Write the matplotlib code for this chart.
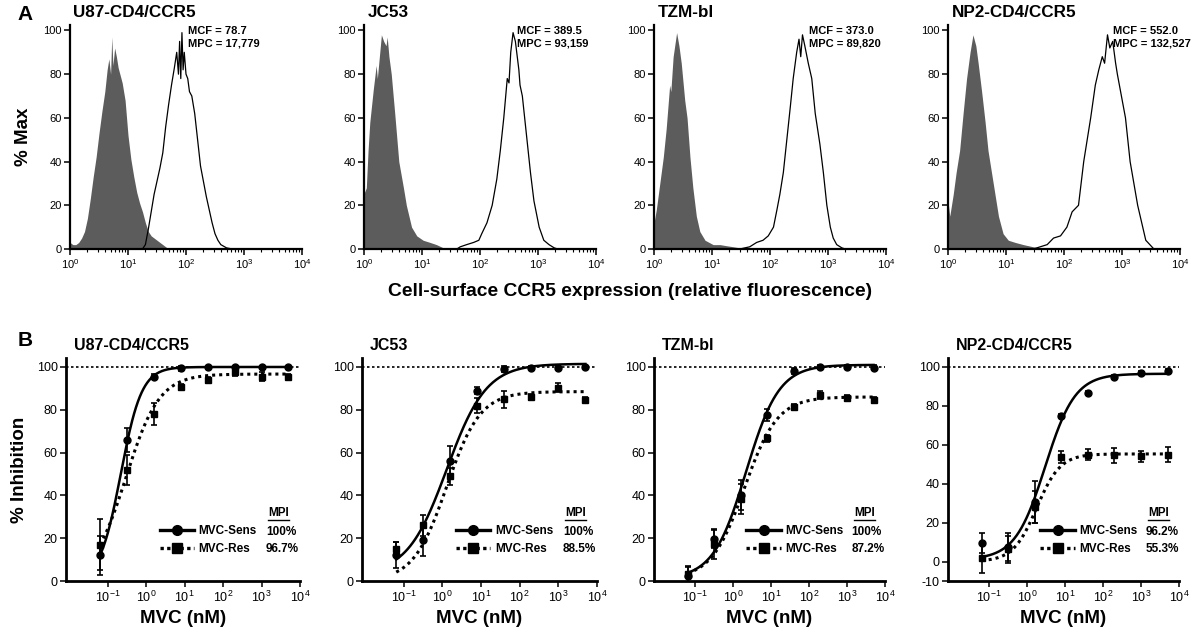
import matplotlib
matplotlib.use('Agg')
import matplotlib.pyplot as plt
import numpy as np
from matplotlib.lines import Line2D
from matplotlib.ticker import LogLocator, NullLocator, FixedLocator

plt.rcParams['font.family'] = ['Liberation Sans', 'DejaVu Sans']
plt.rcParams['mathtext.fontset'] = 'custom'
plt.rcParams['mathtext.rm'] = 'Liberation Sans'
plt.rcParams['mathtext.it'] = 'Liberation Sans:italic'
plt.rcParams['mathtext.bf'] = 'Liberation Sans:bold'
plt.rcParams['mathtext.default'] = 'regular'
plt.rcParams['axes.unicode_minus'] = False

# ---- panel A: flow histograms (x = log10 fluorescence, y = % max) ----
CELL_LINES = ['U87-CD4/CCR5', 'JC53', 'TZM-bl', 'NP2-CD4/CCR5']
MCF = ['78.7', '389.5', '373.0', '552.0']
MPC = ['17,779', '93,159', '89,820', '132,527']

u87_iso_log = [0.00, 0.05, 0.10, 0.15, 0.20, 0.25, 0.30, 0.35, 0.40, 0.45, 0.50, 0.55, 0.60,
               0.64, 0.67, 0.70, 0.72, 0.74, 0.77, 0.80, 0.83, 0.86, 0.90, 0.95, 1.00, 1.05,
               1.10, 1.15, 1.20, 1.25, 1.30, 1.35, 1.40, 1.45, 1.50, 1.55, 1.60, 1.70]
u87_iso_pct = [3, 2, 2, 3, 5, 8, 14, 23, 33, 42, 53, 63, 72,
               82, 87, 80, 97, 84, 92, 88, 83, 80, 76, 68, 52, 41,
               33, 26, 21, 17, 12, 8, 6, 5, 4, 3, 2, 0]
u87_ccr5_log = [1.25, 1.30, 1.35, 1.40, 1.45, 1.50, 1.55, 1.60, 1.65, 1.70, 1.75, 1.80, 1.84,
                1.87, 1.89, 1.91, 1.93, 1.95, 1.97, 2.00, 2.03, 2.06, 2.10, 2.15, 2.20, 2.25,
                2.30, 2.35, 2.40, 2.45, 2.50, 2.55, 2.60, 2.70, 2.80]
u87_ccr5_pct = [0, 2, 9, 17, 25, 31, 37, 44, 56, 66, 75, 83, 90,
                80, 95, 78, 99, 82, 90, 80, 78, 72, 70, 62, 50, 38,
                31, 24, 18, 12, 7, 4, 2, 0.5, 0]

jc53_iso_log = [0.00, 0.01, 0.04, 0.07, 0.10, 0.16, 0.21, 0.23, 0.30, 0.34, 0.38, 0.40, 0.43,
                0.47, 0.53, 0.60, 0.68, 0.73, 0.82, 0.91, 1.02, 1.14, 1.25, 1.37, 1.49]
jc53_iso_pct = [26, 26, 28, 45, 58, 73, 84, 78, 98, 95, 93, 97, 88,
                80, 62, 40, 28, 20, 10, 6, 4, 3, 2, 0.5, 0]
jc53_ccr5_log = [1.60, 1.66, 1.77, 1.89, 1.98, 2.03, 2.12, 2.21, 2.29, 2.35, 2.41, 2.47, 2.50,
                 2.53, 2.57, 2.61, 2.67, 2.69, 2.73, 2.79, 2.87, 2.93, 3.02, 3.10, 3.19, 3.28, 3.34]
jc53_ccr5_pct = [0, 1, 2, 3, 4, 7, 12, 20, 32, 45, 60, 78, 76,
                 90, 99, 95, 82, 75, 70, 55, 35, 22, 10, 4, 2, 0.5, 0]

tzm_iso_log = [0.00, 0.04, 0.10, 0.16, 0.21, 0.27, 0.29, 0.33, 0.39, 0.43, 0.47, 0.53, 0.57,
               0.62, 0.67, 0.73, 0.79, 0.88, 1.02, 1.14, 1.25, 1.37, 1.48, 1.60]
tzm_iso_pct = [12, 18, 30, 42, 55, 75, 72, 88, 99, 93, 85, 68, 60,
               42, 28, 15, 8, 4, 2, 2, 1.5, 1, 0.5, 0]
tzm_ccr5_log = [1.48, 1.65, 1.77, 1.88, 1.97, 2.06, 2.12, 2.17, 2.23, 2.29, 2.35, 2.40, 2.46,
                2.50, 2.53, 2.56, 2.60, 2.66, 2.72, 2.78, 2.86, 2.92, 2.98, 3.04, 3.09, 3.15,
                3.24, 3.30]
tzm_ccr5_pct = [0, 1, 3, 4, 6, 10, 18, 25, 35, 50, 65, 78, 90,
                96, 88, 98, 93, 85, 78, 62, 48, 35, 20, 10, 5, 2,
                0.5, 0]

np2_iso_log = [0.00, 0.03, 0.09, 0.14, 0.20, 0.26, 0.32, 0.38, 0.43, 0.48, 0.52, 0.58, 0.64,
               0.69, 0.78, 0.87, 0.95, 1.04, 1.16, 1.30, 1.47, 1.65]
np2_iso_pct = [22, 15, 25, 35, 45, 62, 78, 90, 98, 93, 85, 72, 58,
               45, 30, 15, 7, 4, 3, 2, 1, 0]
np2_ccr5_log = [1.47, 1.59, 1.71, 1.82, 1.94, 2.05, 2.14, 2.25, 2.34, 2.46, 2.54, 2.60, 2.66,
                2.70, 2.75, 2.79, 2.84, 2.89, 2.92, 3.06, 3.14, 3.27, 3.41, 3.55]
np2_ccr5_pct = [0, 1, 2, 5, 6, 10, 17, 20, 40, 60, 75, 82, 88,
                85, 98, 92, 95, 85, 80, 60, 40, 20, 4, 0]

ISO_LOG = [u87_iso_log, jc53_iso_log, tzm_iso_log, np2_iso_log]
ISO_PCT = [u87_iso_pct, jc53_iso_pct, tzm_iso_pct, np2_iso_pct]
CCR5_LOG = [u87_ccr5_log, jc53_ccr5_log, tzm_ccr5_log, np2_ccr5_log]
CCR5_PCT = [u87_ccr5_pct, jc53_ccr5_pct, tzm_ccr5_pct, np2_ccr5_pct]

# ---- panel B: MVC inhibition ----
DOSE = [0.064, 0.32, 1.6, 8, 40, 200, 1000, 5000]

u87_sens = [12, 66, 95.5, 99.3, 100, 100, 100, 100]
u87_sens_err = [9, 5.5, 1, 1, 0.5, 0.5, 0.5, 0.5]
u87_res = [17, 52, 78, 90.6, 94, 97.5, 95.5, 95.5]
u87_res_err = [12, 7, 5, 1.5, 1.5, 1.5, 2, 1]

jc53_sens = [12, 19, 56, 89, 99, 99.5, 99.7, 100]
jc53_sens_err = [6, 7.5, 7, 1.5, 1.5, 1, 1, 1]
jc53_res = [15, 26, 49, 82, 85, 86, 90.3, 84.8]
jc53_res_err = [3, 5, 4, 3.5, 4, 1.5, 2, 1]

tzm_sens = [2.4, 19.6, 40, 77.6, 98, 100, 100, 99.7]
tzm_sens_err = [4, 4, 7, 3, 1.5, 1, 1, 1]
tzm_res = [3.1, 17.2, 38.4, 66.6, 81.2, 87, 85.4, 84.6]
tzm_res_err = [4, 7, 7, 1.5, 1.5, 2, 1.5, 1.5]

np2_sens = [9.5, 7.5, 30.6, 74.8, 86.6, 94.9, 97, 97.8]
np2_sens_err = [5, 7, 11, 1, 1, 1, 1, 1]
np2_res = [2, 6.2, 28, 53.8, 55, 54.6, 54, 55]
np2_res_err = [8, 7, 8, 3, 3, 4, 3, 4]

# fitted sigmoid parameters: bottom, top, IC50 (nM), Hill slope
SENS_FIT = [(0, 100, 0.22, 1.6), (3, 101.5, 1.3, 0.85), (1, 101, 2.2, 1.0), (1, 96.5, 3.0, 1.1)]
RES_FIT = [(0, 96.7, 0.3, 1.0), (0, 88.5, 1.3, 1.0), (1, 86, 2.0, 1.0), (0, 55.3, 1.8, 1.4)]
MPI_SENS = ['100%', '100%', '100%', '96.2%']
MPI_RES = ['96.7%', '88.5%', '87.2%', '55.3%']

SENS = [u87_sens, jc53_sens, tzm_sens, np2_sens]
SENS_ERR = [u87_sens_err, jc53_sens_err, tzm_sens_err, np2_sens_err]
RES = [u87_res, jc53_res, tzm_res, np2_res]
RES_ERR = [u87_res_err, jc53_res_err, tzm_res_err, np2_res_err]
REF_LEVEL = 100

# ---- layout ----
W, H = 1200, 639
fig = plt.figure(figsize=(W / 100, H / 100), dpi=100)


def px_axes(left, top, right, bottom):
    return fig.add_axes([left / W, 1 - bottom / H, (right - left) / W, (bottom - top) / H])


def style_axes(ax, lw, fs):
    ax.spines['top'].set_visible(False)
    ax.spines['right'].set_visible(False)
    ax.spines['left'].set_linewidth(lw)
    ax.spines['bottom'].set_linewidth(lw)
    ax.tick_params(which='major', direction='out', length=4, width=1.1, labelsize=fs, pad=2)
    ax.tick_params(which='minor', direction='out', length=2.5, width=0.8)


def logistic(x, bottom, top, ic50, hill):
    return bottom + (top - bottom) / (1 + (ic50 / x) ** hill)


a_left = [70, 364, 654, 948]
b_left = [66, 362, 654, 948]
b_right = [300, 597, 885, 1179]
mcf_x = [0.51, 0.66, 0.67, 0.71]

for i in range(4):
    ax = px_axes(a_left[i], 25, a_left[i] + 232, 249)
    ax.fill_between(10 ** np.array(ISO_LOG[i]), ISO_PCT[i], 0, color='#5c5c5c', lw=0)
    ax.plot(10 ** np.array(CCR5_LOG[i]), CCR5_PCT[i], color='black', lw=0.9)
    ax.set_xscale('log')
    ax.set_xlim(1, 1e4)
    ax.set_ylim(0, 102.5)
    ax.set_yticks([0, 20, 40, 60, 80, 100])
    ax.xaxis.set_major_locator(FixedLocator([1, 10, 100, 1000, 10000]))
    ax.xaxis.set_minor_locator(LogLocator(base=10, subs=np.arange(2, 10), numticks=20))
    style_axes(ax, 1.6, 8)
    ax.text(0.015, 1.055, CELL_LINES[i], transform=ax.transAxes, fontsize=12.3,
            fontweight='bold', ha='left', va='center')
    ax.text(mcf_x[i], 0.995, 'MCF = %s\nMPC = %s' % (MCF[i], MPC[i]), transform=ax.transAxes,
            fontsize=8, fontweight='bold', ha='left', va='top', linespacing=1.35)
    if i == 0:
        ax.set_ylabel('% Max', fontsize=13.5, fontweight='bold', labelpad=8)

dotted = (0, (1, 1.3))
for i in range(4):
    ax = px_axes(b_left[i], 358, b_right[i], 581)
    xs = np.logspace(np.log10(DOSE[0]), np.log10(DOSE[-1]), 300)
    ax.axhline(REF_LEVEL, color='black', lw=1.2, ls=(0, (1.5, 1.5)), zorder=1)
    ax.plot(xs, logistic(xs, *SENS_FIT[i]), color='black', lw=1.8, zorder=3)
    ax.plot(xs, logistic(xs, *RES_FIT[i]), color='black', lw=2.2, ls=dotted, zorder=3)
    ax.errorbar(DOSE, SENS[i], yerr=SENS_ERR[i], fmt='o', color='black', ms=5,
                capsize=2.5, elinewidth=1.2, capthick=1.2, zorder=4)
    ax.errorbar(DOSE, RES[i], yerr=RES_ERR[i], fmt='s', color='black', ms=5,
                capsize=2.5, elinewidth=1.2, capthick=1.2, zorder=4)
    ax.set_xscale('log')
    ax.set_xlim(10 ** -2.08, 1e4)
    ax.xaxis.set_major_locator(FixedLocator([0.1, 1, 10, 100, 1000, 10000]))
    ax.xaxis.set_minor_locator(NullLocator())
    if i == 3:
        ax.set_ylim(-10, 104.6)
        ax.set_yticks([-10, 0, 20, 40, 60, 80, 100])
    else:
        ax.set_ylim(0, 104.2)
        ax.set_yticks([0, 20, 40, 60, 80, 100])
    style_axes(ax, 2.0, 9)
    ax.set_xlabel('MVC (nM)', fontsize=13.5, fontweight='bold', labelpad=4)
    ax.text(0.035, 1.058, CELL_LINES[i], transform=ax.transAxes, fontsize=11.5,
            fontweight='bold', ha='left', va='center')
    if i == 0:
        ax.set_ylabel('% Inhibition', fontsize=13.5, fontweight='bold', labelpad=6)

    handles = [Line2D([], [], color='black', lw=2.4, marker='o', ms=7),
               Line2D([], [], color='black', lw=2.4, ls=(0, (1, 1)), marker='s', ms=7)]
    ax.legend(handles, ['MVC-Sens', 'MVC-Res'], loc='center left', bbox_to_anchor=(0.40, 0.182),
              frameon=False, prop={'weight': 'bold', 'size': 8.5}, handlelength=2.9,
              handletextpad=0.4, labelspacing=0.5, borderpad=0, borderaxespad=0)
    ax.text(0.91, 0.305, 'MPI', transform=ax.transAxes, fontsize=8.5, fontweight='bold',
            ha='center', va='center')
    ax.add_line(Line2D([0.865, 0.955], [0.272, 0.272], transform=ax.transAxes, color='black', lw=1))
    ax.text(0.855, 0.22, MPI_SENS[i], transform=ax.transAxes, fontsize=8.5, fontweight='bold',
            ha='left', va='center')
    ax.text(0.855, 0.143, MPI_RES[i], transform=ax.transAxes, fontsize=8.5, fontweight='bold',
            ha='left', va='center')

fig.text(630 / W, 1 - 292 / H, 'Cell-surface CCR5 expression (relative fluorescence)',
         fontsize=13.9, fontweight='bold', ha='center', va='center')
fig.text(25 / W, 1 - 15 / H, 'A', fontsize=15, fontweight='bold', ha='center', va='center')
fig.text(25 / W, 1 - 340 / H, 'B', fontsize=15, fontweight='bold', ha='center', va='center')

fig.savefig('out.png', dpi=100)
